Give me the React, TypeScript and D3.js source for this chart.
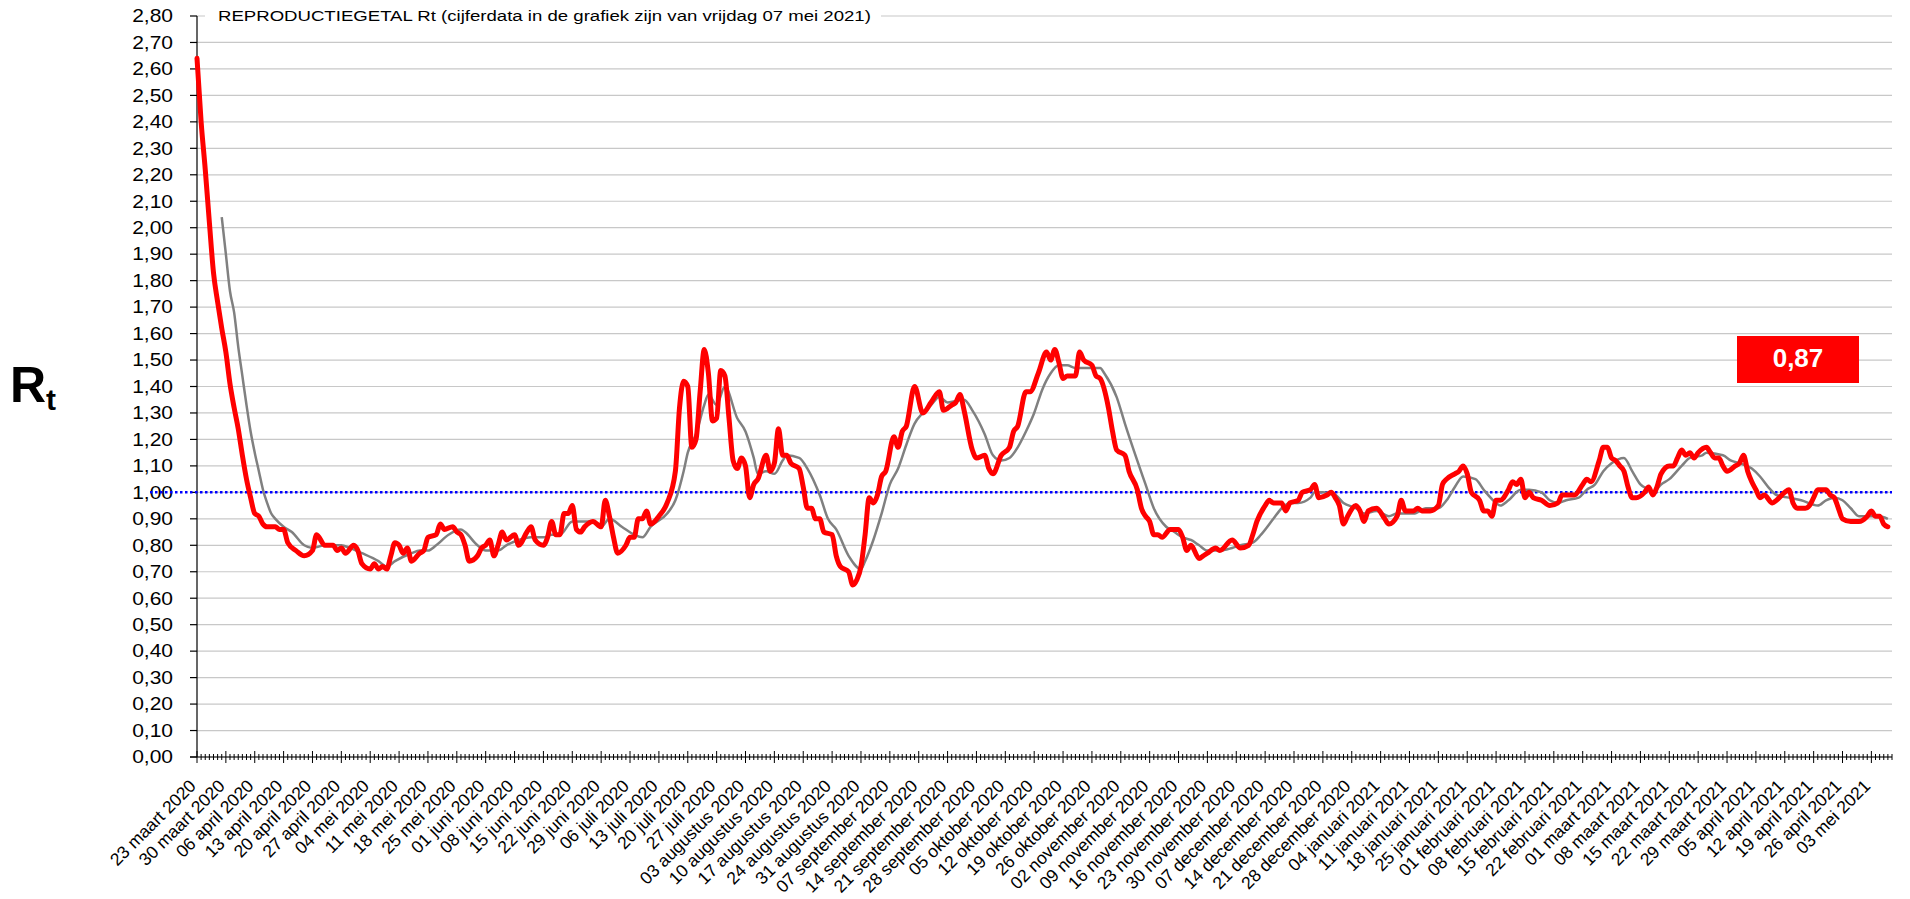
import React from "react";
import * as d3 from "d3";

// weekly category labels (every 7th day, starting 23 maart 2020)
const weekLabels = [
  "23 maart 2020", "30 maart 2020", "06 april 2020", "13 april 2020", "20 april 2020", "27 april 2020",
  "04 mei 2020", "11 mei 2020", "18 mei 2020", "25 mei 2020", "01 juni 2020", "08 juni 2020",
  "15 juni 2020", "22 juni 2020", "29 juni 2020", "06 juli 2020", "13 juli 2020", "20 juli 2020",
  "27 juli 2020", "03 augustus 2020", "10 augustus 2020", "17 augustus 2020", "24 augustus 2020",
  "31 augustus 2020", "07 september 2020", "14 september 2020", "21 september 2020", "28 september 2020",
  "05 oktober 2020", "12 oktober 2020", "19 oktober 2020", "26 oktober 2020", "02 november 2020",
  "09 november 2020", "16 november 2020", "23 november 2020", "30 november 2020", "07 december 2020",
  "14 december 2020", "21 december 2020", "28 december 2020", "04 januari 2021", "11 januari 2021",
  "18 januari 2021", "25 januari 2021", "01 februari 2021", "08 februari 2021", "15 februari 2021",
  "22 februari 2021", "01 maart 2021", "08 maart 2021", "15 maart 2021", "22 maart 2021",
  "29 maart 2021", "05 april 2021", "12 april 2021", "19 april 2021", "26 april 2021", "03 mei 2021",
];

const yTickValues = [0, 0.1, 0.2, 0.3, 0.4, 0.5, 0.6, 0.7, 0.8, 0.9, 1.0, 1.1, 1.2, 1.3, 1.4,
  1.5, 1.6, 1.7, 1.8, 1.9, 2.0, 2.1, 2.2, 2.3, 2.4, 2.5, 2.6, 2.7, 2.8];

// daily Rt (day = days since 23 maart 2020)
const rtDays = [
  0, 1, 2, 3, 4, 5, 6, 7, 8, 9, 10, 11, 12, 13, 14, 15, 16, 17, 19, 20, 21, 22, 24, 26, 28, 29, 31, 33, 34, 35,
  36, 38, 39, 40, 42, 43, 44, 45, 46, 47, 48, 49, 50, 51, 52, 54, 55, 56, 58, 59, 60, 62, 63, 64, 65, 66, 68, 69, 70, 71,
  72, 73, 74, 75, 77, 78, 80, 81, 82, 84, 85, 86, 87, 88, 89, 90, 91, 92, 93, 94, 96, 98, 99, 100, 101, 102, 104, 105, 106, 107,
  108, 109, 110, 112, 114, 116, 117, 118, 119, 120, 121, 122, 123, 124, 125, 126, 127, 128, 129, 130, 131, 132, 133, 134, 135, 136, 138, 139, 140, 141,
  142, 143, 144, 146, 147, 148, 149, 150, 151, 152, 154, 155, 156, 158, 159, 160, 161, 162, 163, 164, 165, 166, 167, 169, 170, 171, 172, 174, 176, 178,
  180, 181, 183, 184, 185, 186, 188, 189, 191, 192, 193, 195, 197, 198, 199, 201, 202, 204, 206, 207, 208, 209, 210, 211, 213, 214, 215, 217, 218, 219,
  221, 222, 223, 225, 226, 228, 229, 230, 231, 232, 233, 234, 236, 238, 239, 240, 241, 243, 244, 245, 247, 248, 251, 253, 255, 256, 257, 259, 260, 261,
  263, 264, 265, 267, 268, 270, 271, 272, 274, 275, 276, 277, 278, 279, 281, 282, 283, 284, 286, 288, 289, 291, 292, 293, 295, 296, 297, 299, 301, 302,
  303, 305, 306, 307, 308, 309, 311, 312, 313, 314, 315, 316, 318, 319, 320, 321, 322, 323, 324, 326, 328, 330, 331, 333, 334, 336, 337, 338, 340, 341,
  342, 343, 344, 345, 346, 347, 348, 349, 351, 352, 353, 354, 355, 357, 358, 359, 360, 361, 362, 363, 364, 366, 367, 368, 369, 370, 371, 373, 374, 375,
  376, 377, 378, 379, 380, 382, 383, 385, 386, 387, 388, 390, 391, 392, 393, 395, 396, 397, 398, 399, 401, 403, 405, 406, 407, 408, 409, 410,
];
const rtValues = [
  2.64, 2.40, 2.22, 2.02, 1.83, 1.72, 1.62, 1.53, 1.41, 1.32, 1.24, 1.14, 1.05, 0.98, 0.92, 0.91, 0.88, 0.87, 0.87, 0.86, 0.86, 0.81, 0.78, 0.76, 0.78, 0.84, 0.80, 0.80, 0.78, 0.79,
  0.77, 0.80, 0.78, 0.73, 0.71, 0.73, 0.71, 0.72, 0.71, 0.76, 0.81, 0.80, 0.77, 0.79, 0.74, 0.77, 0.78, 0.83, 0.84, 0.88, 0.86, 0.87, 0.85, 0.84, 0.80, 0.74, 0.76, 0.79, 0.80, 0.82,
  0.76, 0.80, 0.85, 0.82, 0.84, 0.80, 0.85, 0.87, 0.82, 0.80, 0.83, 0.89, 0.84, 0.84, 0.92, 0.92, 0.95, 0.86, 0.85, 0.87, 0.89, 0.87, 0.97, 0.91, 0.83, 0.77, 0.80, 0.83, 0.83, 0.90,
  0.90, 0.93, 0.88, 0.91, 0.96, 1.08, 1.32, 1.42, 1.40, 1.17, 1.20, 1.38, 1.54, 1.45, 1.27, 1.28, 1.46, 1.44, 1.28, 1.12, 1.09, 1.13, 1.10, 0.98, 1.03, 1.05, 1.14, 1.08, 1.11, 1.24,
  1.14, 1.14, 1.11, 1.09, 1.02, 0.94, 0.94, 0.90, 0.90, 0.85, 0.84, 0.76, 0.72, 0.70, 0.65, 0.67, 0.72, 0.84, 0.98, 0.96, 0.99, 1.06, 1.08, 1.21, 1.17, 1.23, 1.25, 1.40, 1.30, 1.34,
  1.38, 1.31, 1.33, 1.34, 1.37, 1.31, 1.16, 1.13, 1.14, 1.09, 1.07, 1.14, 1.17, 1.23, 1.25, 1.38, 1.38, 1.45, 1.53, 1.50, 1.54, 1.49, 1.43, 1.44, 1.44, 1.53, 1.50, 1.48, 1.44, 1.43,
  1.32, 1.23, 1.16, 1.14, 1.08, 1.01, 0.94, 0.91, 0.89, 0.84, 0.84, 0.83, 0.86, 0.86, 0.83, 0.78, 0.80, 0.75, 0.76, 0.77, 0.79, 0.78, 0.82, 0.79, 0.80, 0.84, 0.89, 0.95, 0.97, 0.96,
  0.96, 0.93, 0.96, 0.97, 1.00, 1.01, 1.03, 0.98, 0.99, 1.00, 0.98, 0.95, 0.88, 0.91, 0.95, 0.93, 0.89, 0.93, 0.94, 0.90, 0.88, 0.91, 0.97, 0.93, 0.93, 0.94, 0.93, 0.93, 0.95, 1.03,
  1.05, 1.07, 1.08, 1.10, 1.07, 1.00, 0.97, 0.93, 0.93, 0.91, 0.97, 0.97, 1.01, 1.04, 1.03, 1.05, 0.98, 1.00, 0.98, 0.97, 0.95, 0.96, 0.99, 0.99, 0.99, 1.03, 1.05, 1.04, 1.12, 1.17,
  1.17, 1.13, 1.12, 1.10, 1.08, 1.02, 0.98, 0.98, 1.00, 1.02, 0.99, 1.02, 1.07, 1.10, 1.10, 1.13, 1.16, 1.14, 1.15, 1.13, 1.15, 1.17, 1.15, 1.13, 1.13, 1.10, 1.08, 1.10, 1.11, 1.14,
  1.08, 1.04, 1.01, 0.98, 0.99, 0.96, 0.97, 1.00, 1.01, 0.96, 0.94, 0.94, 0.95, 0.98, 1.01, 1.01, 0.99, 0.98, 0.94, 0.90, 0.89, 0.89, 0.91, 0.93, 0.91, 0.91, 0.88, 0.87,
];

// 7-daags gemiddelde (grijze lijn)
const avgDays = [
  6, 7, 8, 9, 10, 11, 12, 13, 14, 15, 16, 17, 18, 19, 21, 23, 26, 28, 31, 35, 37, 40, 44, 46, 48, 52, 54, 56, 58, 61,
  64, 65, 68, 70, 73, 75, 78, 81, 84, 86, 88, 91, 94, 96, 98, 100, 103, 106, 108, 110, 114, 116, 118, 119, 121, 123, 124, 126, 128, 131,
  133, 135, 136, 138, 140, 142, 143, 146, 148, 151, 153, 155, 158, 161, 162, 164, 166, 168, 170, 172, 174, 176, 178, 180, 182, 186, 188, 191, 193, 195,
  197, 199, 201, 203, 205, 207, 209, 211, 213, 219, 220, 223, 225, 228, 230, 232, 235, 237, 239, 241, 243, 245, 248, 251, 253, 256, 258, 261, 263, 265,
  267, 270, 271, 273, 276, 278, 281, 283, 286, 289, 291, 295, 298, 301, 303, 305, 307, 310, 312, 315, 316, 318, 321, 323, 326, 328, 330, 332, 335, 337,
  339, 341, 343, 346, 348, 350, 352, 353, 355, 357, 360, 362, 365, 366, 370, 372, 374, 377, 379, 381, 383, 386, 389, 393, 395, 397, 399, 401, 403, 406,
  408, 410,
];
const avgValues = [
  2.04, 1.90, 1.76, 1.68, 1.55, 1.44, 1.33, 1.23, 1.15, 1.08, 1.01, 0.96, 0.92, 0.90, 0.87, 0.85, 0.80, 0.79, 0.80, 0.80, 0.79, 0.77, 0.74, 0.72, 0.74, 0.77, 0.78, 0.78, 0.80, 0.84,
  0.86, 0.85, 0.80, 0.78, 0.78, 0.80, 0.82, 0.83, 0.83, 0.84, 0.84, 0.89, 0.89, 0.89, 0.87, 0.90, 0.87, 0.84, 0.83, 0.87, 0.92, 0.97, 1.08, 1.15, 1.22, 1.33, 1.37, 1.33, 1.40, 1.28,
  1.23, 1.13, 1.07, 1.08, 1.07, 1.12, 1.14, 1.13, 1.09, 0.99, 0.90, 0.86, 0.76, 0.71, 0.74, 0.82, 0.92, 1.03, 1.09, 1.18, 1.26, 1.30, 1.33, 1.36, 1.34, 1.35, 1.31, 1.22, 1.14, 1.12,
  1.13, 1.17, 1.23, 1.30, 1.39, 1.45, 1.48, 1.48, 1.47, 1.47, 1.45, 1.36, 1.26, 1.12, 1.03, 0.94, 0.87, 0.85, 0.83, 0.82, 0.80, 0.78, 0.78, 0.79, 0.80, 0.81, 0.84, 0.90, 0.94, 0.96,
  0.96, 0.98, 1.00, 1.00, 0.99, 0.96, 0.94, 0.92, 0.93, 0.91, 0.92, 0.92, 0.94, 0.94, 0.97, 1.02, 1.06, 1.05, 1.01, 0.96, 0.95, 0.97, 1.01, 1.01, 1.00, 0.97, 0.96, 0.97, 0.98, 1.01,
  1.03, 1.08, 1.11, 1.13, 1.08, 1.03, 1.01, 1.00, 1.03, 1.05, 1.10, 1.13, 1.14, 1.15, 1.14, 1.12, 1.11, 1.09, 1.06, 1.02, 0.99, 0.98, 0.97, 0.95, 0.97, 0.98, 0.97, 0.94, 0.91, 0.91,
  0.91, 0.90,
];

const titleText = "REPRODUCTIEGETAL Rt (cijferdata in de grafiek zijn van vrijdag 07 mei 2021)";
const latestRt = "0,87";
const referenceRt = 1.0;

const W = 1910;
const H = 899;
const font = "'Liberation Sans', Arial, Helvetica, sans-serif";
const stretch = 1.2; // y labels and title in the original are a little wider than tall

export default function App() {
  const x = d3.scaleLinear().domain([0, 411]).range([197, 1892]);
  const y = d3.scaleLinear().domain([0, 2.8]).range([757, 16]);
  const fmt = (v: number) => v.toFixed(2).replace(".", ",");

  const line = d3.line<[number, number]>()
    .x(d => x(d[0]))
    .y(d => y(d[1]))
    .curve(d3.curveMonotoneX);

  const rtPath = line(rtDays.map((d, i) => [d, rtValues[i]]));
  const avgPath = line(avgDays.map((d, i) => [d, avgValues[i]]));
  const allDays = d3.range(0, 412);
  const x0 = x(0), x1 = x(411), yBase = y(0);

  return (
    <svg width={W} height={H} style={{ position: "absolute", left: 0, top: 0, background: "#fff" }}
      fontFamily={font}>
      {/* gridlines */}
      {yTickValues.map(v => (
        <line key={"g" + v} x1={x0} x2={x1} y1={y(v)} y2={y(v)} stroke="#c8c8c8" strokeWidth={1.2} />
      ))}
      {/* y axis */}
      <line x1={x0} x2={x0} y1={y(2.8)} y2={yBase} stroke="#000" strokeWidth={1.2} />
      {yTickValues.map(v => (
        <g key={"yt" + v}>
          <line x1={x0 - 7} x2={x0} y1={y(v)} y2={y(v)} stroke="#000" strokeWidth={1.2} />
          <text transform={`translate(173,${y(v)}) scale(${stretch},1)`} dy="0.36em" textAnchor="end"
            fontSize={17.5} fill="#000">{fmt(v)}</text>
        </g>
      ))}
      {/* x axis */}
      <line x1={x0 - 7} x2={x1} y1={yBase} y2={yBase} stroke="#000" strokeWidth={1.2} />
      {allDays.map(d => (
        <line key={"xt" + d} x1={x(d)} x2={x(d)}
          y1={yBase - (d % 7 === 0 ? 6 : 3)} y2={yBase + (d % 7 === 0 ? 6 : 3)}
          stroke="#000" strokeWidth={1} />
      ))}
      {weekLabels.map((lab, i) => (
        <text key={lab}
          transform={`translate(${x(i * 7)},${yBase + 30}) rotate(-45)`}
          textAnchor="end" fontSize={17.5} fill="#000">{lab}</text>
      ))}
      {/* title */}
      <rect x={205} y={6} width={676} height={20} fill="#fff" />
      <text transform={`translate(218,21) scale(${stretch},1)`} fontSize={15.5} fill="#000">{titleText}</text>
      {/* reference line */}
      <line x1={150} x2={x1} y1={y(referenceRt)} y2={y(referenceRt)} stroke="#0000ff"
        strokeWidth={2.5} strokeDasharray="2.5 2.5" />
      {/* series */}
      <path d={avgPath ?? ""} fill="none" stroke="#808080" strokeWidth={2.5} strokeLinejoin="round" />
      <path d={rtPath ?? ""} fill="none" stroke="#ff0000" strokeWidth={5} strokeLinejoin="round" strokeLinecap="round" />
      {/* latest value box */}
      <rect x={1737} y={336} width={122} height={47} fill="#ff0000" />
      <text x={1798} y={367} textAnchor="middle" fontSize={26} fontWeight="bold" fill="#fff">{latestRt}</text>
      {/* Rt label */}
      <text x={10} y={402} fontSize={50} fontWeight="bold" fill="#000">
        R<tspan fontSize={30} dy={8}>t</tspan>
      </text>
    </svg>
  );
}
